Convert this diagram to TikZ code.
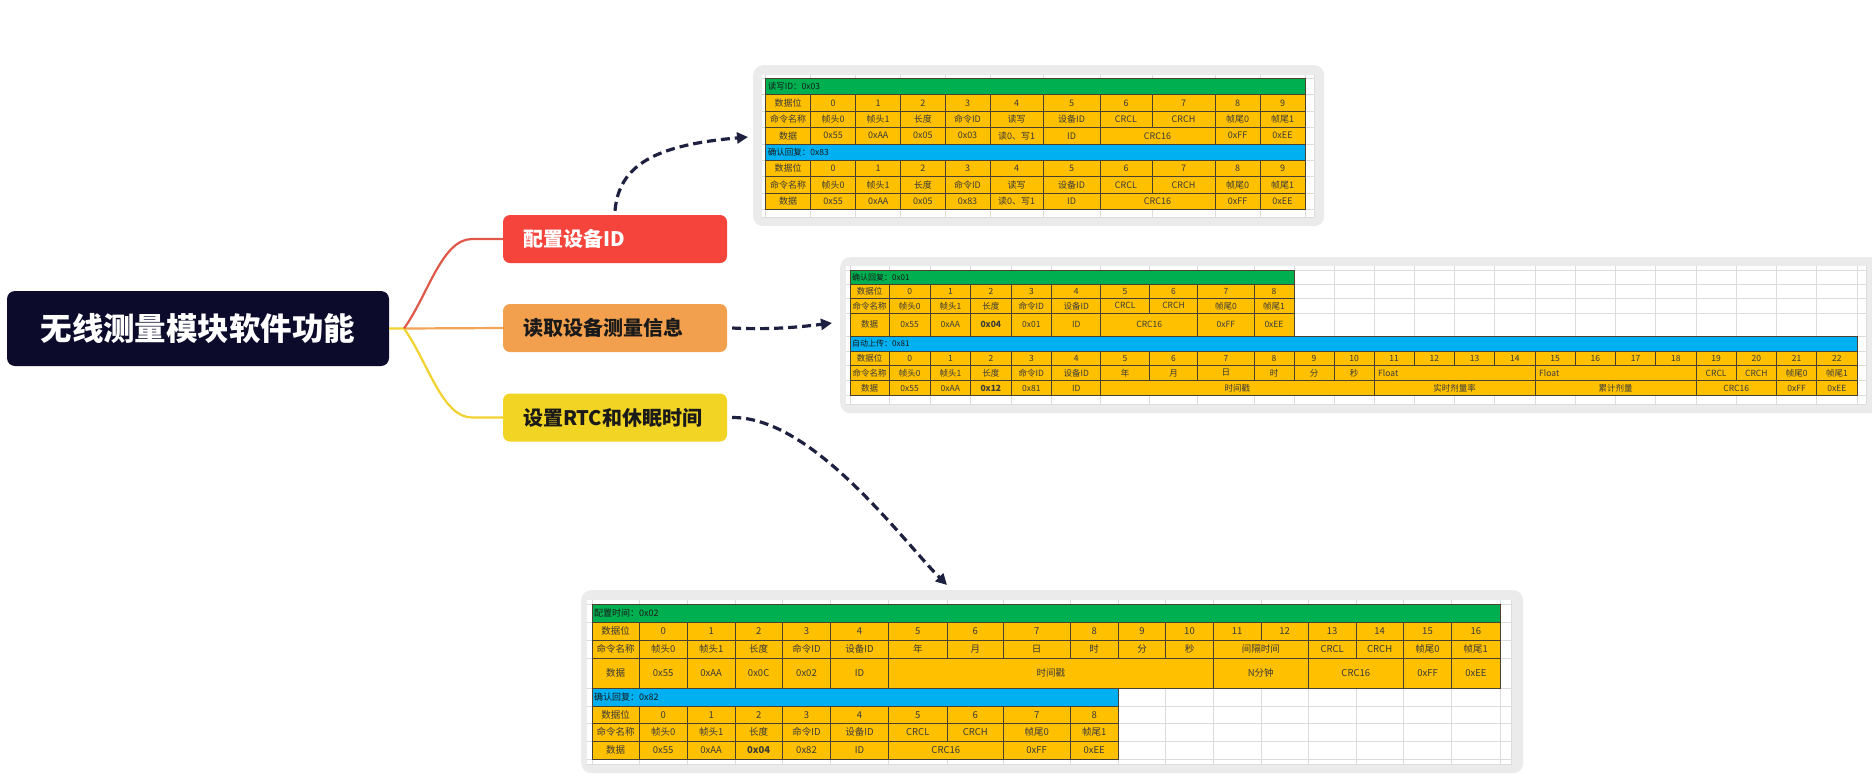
\documentclass[tikz,border=0pt]{standalone}
\usepackage{fontspec}
\setmainfont{Noto Sans CJK SC}
\usetikzlibrary{arrows.meta,calc}
\definecolor{rootc}{HTML}{0C0B2C}
\definecolor{redc}{HTML}{F5443B}
\definecolor{orangec}{HTML}{F2A04E}
\definecolor{yellowc}{HTML}{F2D424}
\definecolor{redl}{HTML}{E0584A}
\definecolor{orangel}{HTML}{F2A457}
\definecolor{yellowl}{HTML}{F2D22E}
\definecolor{arrowc}{HTML}{1E2040}
\definecolor{panelc}{HTML}{EBEBEB}
\definecolor{hgreen}{HTML}{00B050}
\definecolor{hblue}{HTML}{00B0F0}
\definecolor{goldc}{HTML}{FFC000}
\definecolor{gridc}{HTML}{4A4030}
\definecolor{lgrid}{HTML}{DCDCDC}
\definecolor{celltxt}{HTML}{3A3A3A}
\definecolor{darktxt}{HTML}{1A1A1A}
% cell: prefix, col1, col2, row1, row2, style, text
\newcommand\tc[7]{%
  \path[#6] (#1c#2 |- #1r#4) rectangle (#1c#3 |- #1r#5);
  \node[celltext] at ($(#1c#2 |- #1r#4)!0.5!(#1c#3 |- #1r#5)$) {#7};}
% left aligned cell
\newcommand\tcl[7]{%
  \path[#6] (#1c#2 |- #1r#4) rectangle (#1c#3 |- #1r#5);
  \node[celltext,anchor=west] at ($($(#1c#2 |- #1r#4)!0.5!(#1c#2 |- #1r#5)$)+(4,0)$) {#7};}
% header bar
\newcommand\hdrbar[7]{%
  \path[#6] (#1c#2 |- #1r#4) rectangle (#1c#3 |- #1r#5);
  \node[hdrtext,anchor=west] at ($($(#1c#2 |- #1r#4)!0.5!(#1c#2 |- #1r#5)$)+(2,0)$) {#7};}
\begin{document}
\begin{tikzpicture}[x=1pt,y=-1pt,
  rootbox/.style={fill=rootc,rounded corners=8pt,text=white,font=\fontsize{31.5}{34}\selectfont\bfseries,minimum width=382pt,minimum height=75pt,inner sep=0pt},
  branch/.style={rounded corners=7pt,font=\fontsize{20}{22}\selectfont\bfseries,minimum height=48pt,text width=184pt,align=left,inner xsep=20pt,inner ysep=0pt},
  panel/.style={fill=panelc,rounded corners=10pt,inner sep=0pt,anchor=north west},
  mline/.style={line width=2.2pt},
  dasharrow/.style={draw=arrowc,line width=3.2pt,dash pattern=on 9pt off 5pt,-{Triangle[length=11pt,width=11pt]}},
  cell/.style={fill=goldc,draw=gridc,line width=0.7pt},
  hg/.style={fill=hgreen,draw=gridc,line width=0.7pt},
  hb/.style={fill=hblue,draw=gridc,line width=0.7pt},
  celltext/.style={text=celltxt,inner sep=0pt,font=\fontsize{9}{9}\selectfont},
  hdrtext/.style={text=darktxt,inner sep=0pt,font=\fontsize{8.5}{9}\selectfont},
  lightline/.style={draw=lgrid,line width=0.6pt}]
\useasboundingbox[fill=white] (0,0) rectangle (1872,780);

% ---------------- panels ----------------
\node[panel,minimum width=571pt,minimum height=161pt] (p1) at (753,65) {};
\node[panel,minimum width=1045pt,minimum height=156pt] (p2) at (840,257) {};
\node[panel,minimum width=942pt,minimum height=183pt] (p3) at (581,590) {};

% ---------------- table A ----------------
\foreach \v [count=\i from 0] in {765.7,810.7,855.7,900.7,945,990,1043.3,1100,1152,1215,1260,1305,1314}
  \coordinate (Ac\i) at (\v,0);
\foreach \v [count=\i from 0] in {78.3,94.7,111.1,127.5,143.9,160.3,176.7,193.1,209.5,217}
  \coordinate (Ar\i) at (0,\v);
\fill[white] (762,75) rectangle (1314,217);
\foreach \i in {0,...,12} \draw[lightline] (Ac\i |- 0,75) -- (Ac\i |- 0,217);
\foreach \i in {0,...,9} \draw[lightline] (762,0 |- Ar\i) -- (1314,0 |- Ar\i);
\hdrbar{A}{0}{11}{0}{1}{hg}{读写ID：0x03}
\hdrbar{A}{0}{11}{4}{5}{hb}{确认回复：0x83}
\foreach \ra/\rb in {1/2,5/6}{
  \tc{A}{0}{1}{\ra}{\rb}{cell}{数据位}
  \foreach \k [evaluate=\k as \ka using int(\k+1), evaluate=\k as \kb using int(\k+2)] in {0,...,9}
    {\tc{A}{\ka}{\kb}{\ra}{\rb}{cell}{\k}}
}
\foreach \ra/\rb in {2/3,6/7}{
  \tc{A}{0}{1}{\ra}{\rb}{cell}{命令名称}
  \foreach \ca/\cb/\tx in {1/2/帧头0,2/3/帧头1,3/4/长度,4/5/命令ID,5/6/读写,6/7/设备ID,7/8/CRCL,8/9/CRCH,9/10/帧尾0,10/11/帧尾1}
    {\tc{A}{\ca}{\cb}{\ra}{\rb}{cell}{\tx}}
}
\foreach \ra/\rb/\cmd in {3/4/0x03,7/8/0x83}{
  \tc{A}{0}{1}{\ra}{\rb}{cell}{数据}
  \foreach \ca/\cb/\tx in {1/2/0x55,2/3/0xAA,3/4/0x05,4/5/\cmd,5/6/读0、写1,6/7/ID,7/9/CRC16,9/10/0xFF,10/11/0xEE}
    {\tc{A}{\ca}{\cb}{\ra}{\rb}{cell}{\tx}}
}

% ---------------- table B ----------------
\foreach \v [count=\i from 0] in {850,889.3,930,970.7,1011,1051.7,1100.7,1149.3,1197.7,1254,1294,1334,1374,1414.25,1454.5,1494.75,1535,1575.25,1615.5,1655.75,1696,1736.25,1776.5,1816.75,1857,1866}
  \coordinate (Bc\i) at (\v,0);
\foreach \v [count=\i from 0] in {270.7,284.3,298.3,313.3,336,351,365.5,380.5,395.5,404}
  \coordinate (Br\i) at (0,\v);
\fill[white] (846,266) rectangle (1866,404);
\foreach \i in {0,...,25} \draw[lightline] (Bc\i |- 0,266) -- (Bc\i |- 0,404);
\foreach \i in {0,...,9} \draw[lightline] (846,0 |- Br\i) -- (1866,0 |- Br\i);
\begin{scope}[celltext/.append style={font=\fontsize{8.5}{9}\selectfont},hdrtext/.append style={font=\fontsize{8}{9}\selectfont}]
\hdrbar{B}{0}{10}{0}{1}{hg}{确认回复：0x01}
\tc{B}{0}{1}{1}{2}{cell}{数据位}
\foreach \k [evaluate=\k as \ka using int(\k+1), evaluate=\k as \kb using int(\k+2)] in {0,...,8}
  {\tc{B}{\ka}{\kb}{1}{2}{cell}{\k}}
\tc{B}{0}{1}{2}{3}{cell}{命令名称}
\foreach \ca/\cb/\tx in {1/2/帧头0,2/3/帧头1,3/4/长度,4/5/命令ID,5/6/设备ID,6/7/CRCL,7/8/CRCH,8/9/帧尾0,9/10/帧尾1}
  {\tc{B}{\ca}{\cb}{2}{3}{cell}{\tx}}
\tc{B}{0}{1}{3}{4}{cell}{数据}
\foreach \ca/\cb/\tx in {1/2/0x55,2/3/0xAA,3/4/{\bfseries 0x04},4/5/0x01,5/6/ID,6/8/CRC16,8/9/0xFF,9/10/0xEE}
  {\tc{B}{\ca}{\cb}{3}{4}{cell}{\tx}}
\hdrbar{B}{0}{24}{4}{5}{hb}{自动上传：0x81}
\tc{B}{0}{1}{5}{6}{cell}{数据位}
\foreach \k [evaluate=\k as \ka using int(\k+1), evaluate=\k as \kb using int(\k+2)] in {0,...,22}
  {\tc{B}{\ka}{\kb}{5}{6}{cell}{\k}}
\tc{B}{0}{1}{6}{7}{cell}{命令名称}
\foreach \ca/\cb/\tx in {1/2/帧头0,2/3/帧头1,3/4/长度,4/5/命令ID,5/6/设备ID,6/7/年,7/8/月,8/9/日,9/10/时,10/11/分,11/12/秒,20/21/CRCL,21/22/CRCH,22/23/帧尾0,23/24/帧尾1}
  {\tc{B}{\ca}{\cb}{6}{7}{cell}{\tx}}
\tcl{B}{12}{16}{6}{7}{cell}{Float}
\tcl{B}{16}{20}{6}{7}{cell}{Float}
\tc{B}{0}{1}{7}{8}{cell}{数据}
\foreach \ca/\cb/\tx in {1/2/0x55,2/3/0xAA,3/4/{\bfseries 0x12},4/5/0x81,5/6/ID,6/12/时间戳,12/16/实时剂量率,16/20/累计剂量,20/22/CRC16,22/23/0xFF,23/24/0xEE}
  {\tc{B}{\ca}{\cb}{7}{8}{cell}{\tx}}
\end{scope}

% ---------------- table C ----------------
\foreach \v [count=\i from 0] in {592,639,687.3,735,782.3,830.7,888.3,947.3,1003.3,1070,1118.3,1165.7,1213.3,1261,1308.3,1356,1403.3,1451.7,1500,1511.7}
  \coordinate (Cc\i) at (\v,0);
\foreach \v [count=\i from 0] in {604,622,640,658,688,706,723.5,741,759,764}
  \coordinate (Cr\i) at (0,\v);
\fill[white] (587,600) rectangle (1512,764);
\foreach \i in {0,...,19} \draw[lightline] (Cc\i |- 0,600) -- (Cc\i |- 0,764);
\foreach \i in {0,...,9} \draw[lightline] (587,0 |- Cr\i) -- (1512,0 |- Cr\i);
\begin{scope}[celltext/.append style={font=\fontsize{9.5}{10}\selectfont},hdrtext/.append style={font=\fontsize{9}{10}\selectfont}]
\hdrbar{C}{0}{18}{0}{1}{hg}{配置时间：0x02}
\tc{C}{0}{1}{1}{2}{cell}{数据位}
\foreach \k [evaluate=\k as \ka using int(\k+1), evaluate=\k as \kb using int(\k+2)] in {0,...,16}
  {\tc{C}{\ka}{\kb}{1}{2}{cell}{\k}}
\tc{C}{0}{1}{2}{3}{cell}{命令名称}
\foreach \ca/\cb/\tx in {1/2/帧头0,2/3/帧头1,3/4/长度,4/5/命令ID,5/6/设备ID,6/7/年,7/8/月,8/9/日,9/10/时,10/11/分,11/12/秒,12/14/间隔时间,14/15/CRCL,15/16/CRCH,16/17/帧尾0,17/18/帧尾1}
  {\tc{C}{\ca}{\cb}{2}{3}{cell}{\tx}}
\tc{C}{0}{1}{3}{4}{cell}{数据}
\foreach \ca/\cb/\tx in {1/2/0x55,2/3/0xAA,3/4/0x0C,4/5/0x02,5/6/ID,6/12/时间戳,12/14/N分钟,14/16/CRC16,16/17/0xFF,17/18/0xEE}
  {\tc{C}{\ca}{\cb}{3}{4}{cell}{\tx}}
\hdrbar{C}{0}{10}{4}{5}{hb}{确认回复：0x82}
\tc{C}{0}{1}{5}{6}{cell}{数据位}
\foreach \k [evaluate=\k as \ka using int(\k+1), evaluate=\k as \kb using int(\k+2)] in {0,...,8}
  {\tc{C}{\ka}{\kb}{5}{6}{cell}{\k}}
\tc{C}{0}{1}{6}{7}{cell}{命令名称}
\foreach \ca/\cb/\tx in {1/2/帧头0,2/3/帧头1,3/4/长度,4/5/命令ID,5/6/设备ID,6/7/CRCL,7/8/CRCH,8/9/帧尾0,9/10/帧尾1}
  {\tc{C}{\ca}{\cb}{6}{7}{cell}{\tx}}
\tc{C}{0}{1}{7}{8}{cell}{数据}
\foreach \ca/\cb/\tx in {1/2/0x55,2/3/0xAA,3/4/{\bfseries 0x04},4/5/0x82,5/6/ID,6/8/CRC16,8/9/0xFF,9/10/0xEE}
  {\tc{C}{\ca}{\cb}{7}{8}{cell}{\tx}}
\end{scope}

% ---------------- mind map ----------------
\node[rootbox] (root) at (198,328.5) {无线测量模块软件功能};
\node[branch,fill=redc,text=white] (b1) at (615,239) {配置设备ID};
\node[branch,fill=orangec,text=darktxt] (b2) at (615,328) {读取设备测量信息};
\node[branch,fill=yellowc,text=darktxt] (b3) at (615,417.5) {设置RTC和休眠时间};
\coordinate (J) at (404,328.5);
\draw[mline,draw=orangel] (J) -- (b2.west);
\draw[mline,draw=yellowl] (root.east) -- (J) .. controls (428,362) and (442,417.5) .. (472,417.5) -- (b3.west);
\draw[mline,draw=redl] (J) .. controls (428,295) and (442,239) .. (472,239) -- (b1.west);

% ---------------- dashed arrows ----------------
\coordinate (e1) at (748,137);
\coordinate (e2) at (832,323);
\coordinate (e3) at (947,585);
\draw[dasharrow] ([yshift=4pt]b1.north) .. controls (619,165) and (655,145) .. (e1);
\draw[dasharrow] ([xshift=5pt]b2.east) .. controls (770,330) and (800,327) .. (e2);
\draw[dasharrow] ([xshift=5pt]b3.east) .. controls (813,417) and (902,540) .. (e3);
\end{tikzpicture}
\end{document}
